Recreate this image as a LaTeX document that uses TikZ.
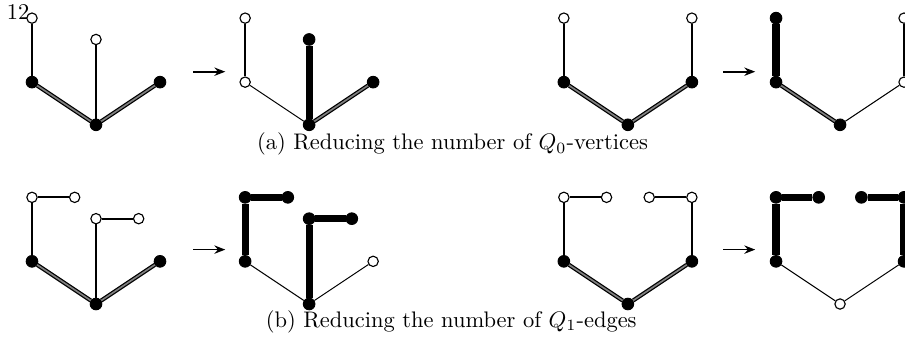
\documentclass[tikz,border=0pt]{standalone}
\usetikzlibrary{arrows.meta}

\tikzset{
  vopen/.style={circle, draw, fill=white, line width=0.5pt, inner sep=0pt, minimum size=4.6pt},
  vfull/.style={circle, draw, fill=black, inner sep=0pt, minimum size=5.2pt},
  plain/.style={line width=0.45pt},
  solidedge/.style={line width=0.9pt},
  heavy/.style={line width=3.2pt},
  dbl/.style={line width=0.55pt, double=black!50, double distance=0.75pt},
  step arrow/.style={-{Stealth[length=1.7mm, width=1.3mm]}, line width=0.75pt}
}

\begin{document}
\begin{tikzpicture}[font=\fontsize{10}{12}\selectfont]
\useasboundingbox (0,0) rectangle (14.14,5.42);
\node[anchor=base west, inner sep=0pt] (pageno) at (0.1,5.12) {12};

% ---------- (a) row ----------
% panel 1
\begin{scope}[shift={(1.5,3.47)}]
\node[vopen] (a1t) at (-1,5/3) {};
\node[vopen] (a1m) at (0,4/3) {};
\node[vfull] (a1l) at (-1,2/3) {};
\node[vfull] (a1r) at (1,2/3) {};
\node[vfull] (a1b) at (0,0) {};
\draw[solidedge] (a1t) -- (a1l);
\draw[solidedge] (a1m) -- (a1b);
\draw[dbl] (a1l) -- (a1b);
\draw[dbl] (a1b) -- (a1r);
\end{scope}
% panel 2
\begin{scope}[shift={(4.83,3.47)}]
\node[vopen] (a2t) at (-1,5/3) {};
\node[vfull] (a2m) at (0,4/3) {};
\node[vopen] (a2l) at (-1,2/3) {};
\node[vfull] (a2r) at (1,2/3) {};
\node[vfull] (a2b) at (0,0) {};
\draw[solidedge] (a2t) -- (a2l);
\draw[plain] (a2l) -- (a2b);
\draw[heavy] (a2m) -- (a2b);
\draw[dbl] (a2b) -- (a2r);
\end{scope}
% panel 3
\begin{scope}[shift={(9.81,3.47)}]
\node[vopen] (a3t) at (-1,5/3) {};
\node[vopen] (a3u) at (1,5/3) {};
\node[vfull] (a3l) at (-1,2/3) {};
\node[vfull] (a3r) at (1,2/3) {};
\node[vfull] (a3b) at (0,0) {};
\draw[solidedge] (a3t) -- (a3l);
\draw[solidedge] (a3u) -- (a3r);
\draw[dbl] (a3l) -- (a3b);
\draw[dbl] (a3b) -- (a3r);
\end{scope}
% panel 4
\begin{scope}[shift={(13.125,3.47)}]
\node[vfull] (a4t) at (-1,5/3) {};
\node[vopen] (a4u) at (1,5/3) {};
\node[vfull] (a4l) at (-1,2/3) {};
\node[vopen] (a4r) at (1,2/3) {};
\node[vfull] (a4b) at (0,0) {};
\draw[heavy] (a4t) -- (a4l);
\draw[solidedge] (a4u) -- (a4r);
\draw[dbl] (a4l) -- (a4b);
\draw[plain] (a4b) -- (a4r);
\end{scope}
% arrows
\coordinate (a12s) at (3.02,4.30); \coordinate (a12e) at (3.52,4.30);
\coordinate (a34s) at (11.30,4.30); \coordinate (a34e) at (11.80,4.30);
\draw[step arrow] (a12s) -- (a12e);
\draw[step arrow] (a34s) -- (a34e);
\node (capa) at (7.07,3.17) {(a) Reducing the number of $Q_0$-vertices};

% ---------- (b) row ----------
% panel 1
\begin{scope}[shift={(1.5,0.67)}]
\node[vopen] (b1t) at (-1,5/3) {};
\node[vopen] (b1s) at (-1/3,5/3) {};
\node[vopen] (b1m) at (0,4/3) {};
\node[vopen] (b1n) at (2/3,4/3) {};
\node[vfull] (b1l) at (-1,2/3) {};
\node[vfull] (b1r) at (1,2/3) {};
\node[vfull] (b1b) at (0,0) {};
\draw[solidedge] (b1t) -- (b1s);
\draw[solidedge] (b1t) -- (b1l);
\draw[solidedge] (b1m) -- (b1n);
\draw[solidedge] (b1m) -- (b1b);
\draw[dbl] (b1l) -- (b1b);
\draw[dbl] (b1b) -- (b1r);
\end{scope}
% panel 2
\begin{scope}[shift={(4.83,0.67)}]
\node[vfull] (b2t) at (-1,5/3) {};
\node[vfull] (b2s) at (-1/3,5/3) {};
\node[vfull] (b2m) at (0,4/3) {};
\node[vfull] (b2n) at (2/3,4/3) {};
\node[vfull] (b2l) at (-1,2/3) {};
\node[vopen] (b2r) at (1,2/3) {};
\node[vfull] (b2b) at (0,0) {};
\draw[heavy] (b2t) -- (b2s);
\draw[heavy] (b2t) -- (b2l);
\draw[heavy] (b2m) -- (b2n);
\draw[heavy] (b2m) -- (b2b);
\draw[plain] (b2l) -- (b2b);
\draw[plain] (b2b) -- (b2r);
\end{scope}
% panel 3
\begin{scope}[shift={(9.81,0.67)}]
\node[vopen] (b3t) at (-1,5/3) {};
\node[vopen] (b3s) at (-1/3,5/3) {};
\node[vopen] (b3v) at (1/3,5/3) {};
\node[vopen] (b3u) at (1,5/3) {};
\node[vfull] (b3l) at (-1,2/3) {};
\node[vfull] (b3r) at (1,2/3) {};
\node[vfull] (b3b) at (0,0) {};
\draw[solidedge] (b3t) -- (b3s);
\draw[solidedge] (b3v) -- (b3u);
\draw[solidedge] (b3t) -- (b3l);
\draw[solidedge] (b3u) -- (b3r);
\draw[dbl] (b3l) -- (b3b);
\draw[dbl] (b3b) -- (b3r);
\end{scope}
% panel 4
\begin{scope}[shift={(13.125,0.67)}]
\node[vfull] (b4t) at (-1,5/3) {};
\node[vfull] (b4s) at (-1/3,5/3) {};
\node[vfull] (b4v) at (1/3,5/3) {};
\node[vfull] (b4u) at (1,5/3) {};
\node[vfull] (b4l) at (-1,2/3) {};
\node[vfull] (b4r) at (1,2/3) {};
\node[vopen] (b4b) at (0,0) {};
\draw[heavy] (b4t) -- (b4s);
\draw[heavy] (b4v) -- (b4u);
\draw[heavy] (b4t) -- (b4l);
\draw[heavy] (b4u) -- (b4r);
\draw[plain] (b4l) -- (b4b);
\draw[plain] (b4b) -- (b4r);
\end{scope}
% arrows
\coordinate (b12s) at (3.02,1.52); \coordinate (b12e) at (3.52,1.52);
\coordinate (b34s) at (11.30,1.52); \coordinate (b34e) at (11.80,1.52);
\draw[step arrow] (b12s) -- (b12e);
\draw[step arrow] (b34s) -- (b34e);
\node (capb) at (7.05,0.39) {(b) Reducing the number of $Q_1$-edges};
\end{tikzpicture}
\end{document}
